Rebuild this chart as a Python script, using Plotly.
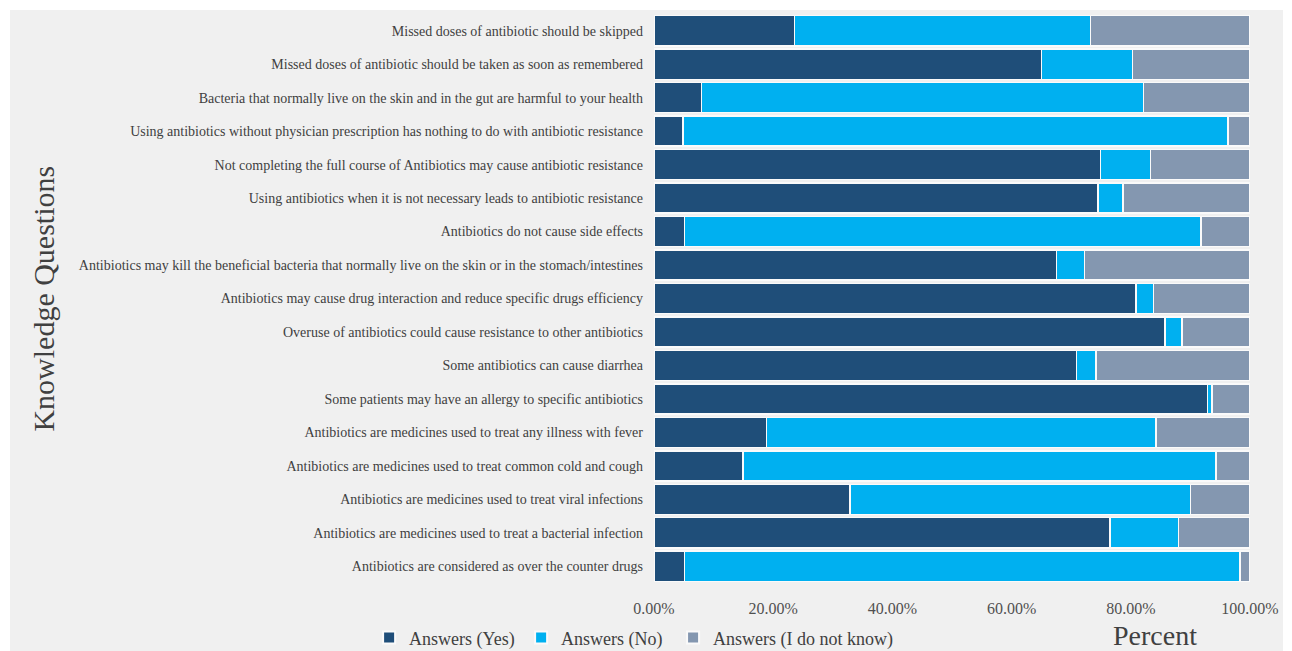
import plotly.graph_objects as go

# Knowledge questions, listed top to bottom
questions = [
    "Missed doses of antibiotic should be skipped",
    "Missed doses of antibiotic should be taken as soon as remembered",
    "Bacteria that normally live on the skin and in the gut are harmful to your health",
    "Using antibiotics without physician prescription has nothing to do with antibiotic resistance",
    "Not completing the full course of Antibiotics may cause antibiotic resistance",
    "Using antibiotics when it is not necessary leads to antibiotic resistance",
    "Antibiotics do not cause side effects",
    "Antibiotics may kill the beneficial bacteria that normally live on the skin or in the stomach/intestines",
    "Antibiotics may cause drug interaction and reduce specific drugs efficiency",
    "Overuse of antibiotics could cause resistance to other antibiotics",
    "Some antibiotics can cause diarrhea",
    "Some patients may have an allergy to specific antibiotics",
    "Antibiotics are medicines used to treat any illness with fever",
    "Antibiotics are medicines used to treat common cold and cough",
    "Antibiotics are medicines used to treat viral infections",
    "Antibiotics are medicines used to treat a bacterial infection",
    "Antibiotics are considered as over the counter drugs",
]

# Share of answers (fractions of respondents)
answers_yes = [0.236, 0.650, 0.080, 0.049, 0.749, 0.745, 0.051, 0.675, 0.809,
               0.857, 0.709, 0.929, 0.189, 0.149, 0.329, 0.765, 0.051]
answers_no = [0.496, 0.153, 0.741, 0.914, 0.084, 0.042, 0.867, 0.047, 0.029,
              0.029, 0.033, 0.007, 0.653, 0.794, 0.571, 0.115, 0.932]
answers_idk = [round(1 - y - n, 3) for y, n in zip(answers_yes, answers_no)]

x_ticks = [0, 0.2, 0.4, 0.6, 0.8, 1.0]
x_tick_labels = ["0.00%", "20.00%", "40.00%", "60.00%", "80.00%", "100.00%"]

series = [
    ("Answers (Yes)", answers_yes, "#1f4e79", "legend"),
    ("Answers (No)", answers_no, "#00b0f0", "legend"),
    ("Answers (I do not know)", answers_idk, "#8497b0", "legend2"),
]

fig = go.Figure()
for name, vals, color, leg in series:
    fig.add_trace(go.Bar(
        y=questions, x=vals, name=name, orientation="h", legend=leg,
        marker=dict(color=color, line=dict(color="#fafafa", width=1.5)),
    ))

serif = "Liberation Serif, DejaVu Serif, serif"
legend_style = dict(orientation="h", y=-0.0965, xanchor="left", yanchor="middle",
                    font=dict(family=serif, size=18, color="#404040"),
                    bgcolor="rgba(0,0,0,0)", traceorder="normal",
                    itemwidth=30, itemsizing="constant")

fig.update_layout(
    width=1292, height=651,
    barmode="stack", bargap=0.1,
    paper_bgcolor="white", plot_bgcolor="#f0f0f0",
    margin=dict(l=654, r=42, t=14, b=68, autoexpand=False),
    font=dict(family=serif, color="#404040"),
    showlegend=True,
    legend=dict(x=-0.478, entrywidth=107, entrywidthmode="pixels", **legend_style),
    legend2=dict(x=0.032, **legend_style),
    xaxis=dict(range=[0, 1.0], tickvals=x_ticks, ticktext=x_tick_labels,
               showgrid=False, zeroline=False, showline=False, ticks="",
               ticklabelstandoff=14, automargin=False,
               tickfont=dict(family=serif, size=16, color="#505050"),
               fixedrange=True),
    yaxis=dict(categoryorder="array", categoryarray=questions[::-1],
               showgrid=False, zeroline=False, showline=False, ticks="",
               ticklabelstandoff=10, automargin=False,
               tickfont=dict(family=serif, size=14, color="#404040")),
    shapes=[dict(type="rect", xref="paper", yref="paper", layer="below",
                 x0=-1.0805, x1=1.0554, y0=-0.3, y1=1.007,
                 fillcolor="#f0f0f0", line=dict(width=0))],
    annotations=[
        dict(text="Knowledge Questions", xref="paper", yref="paper",
             x=-1.025, y=0.5, textangle=-90, showarrow=False,
             xanchor="center", yanchor="middle",
             font=dict(family=serif, size=30, color="#404040")),
        dict(text="Percent", xref="paper", yref="paper",
             x=0.8406, y=-0.093, showarrow=False,
             xanchor="center", yanchor="middle",
             font=dict(family=serif, size=28, color="#404040")),
    ],
)

fig.write_html("out.html")
